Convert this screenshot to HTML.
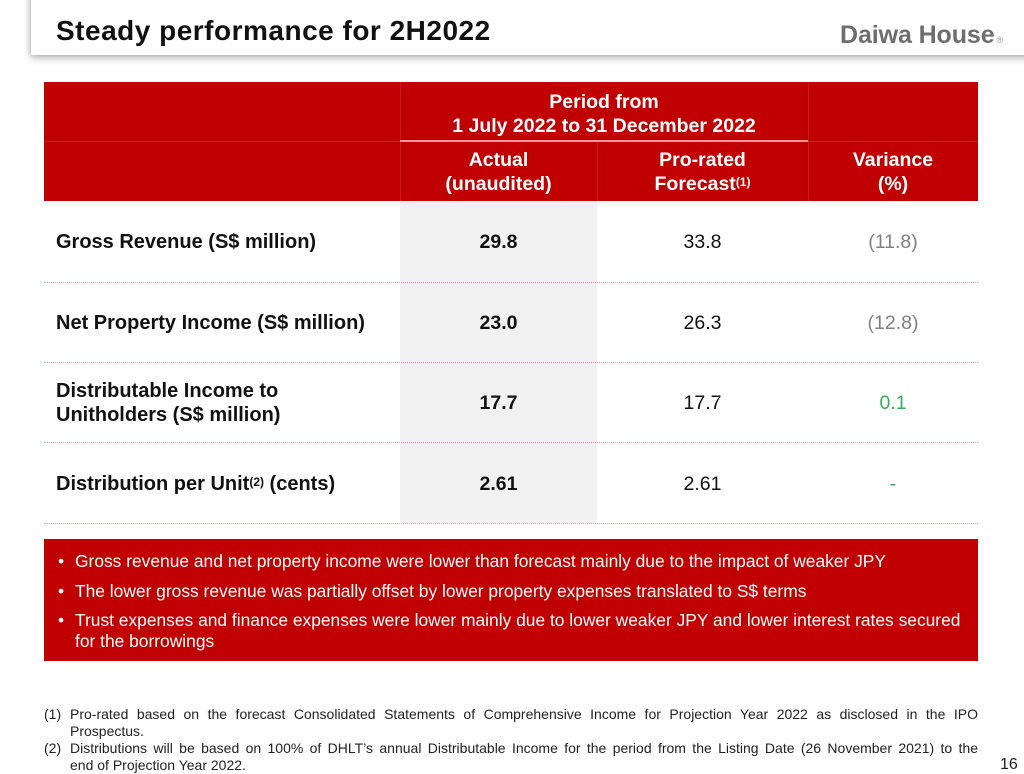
<!DOCTYPE html>
<html>
<head>
<meta charset="utf-8">
<style>
  html, body { margin:0; padding:0; }
  body { width:1024px; height:772px; position:relative; overflow:hidden; background:#fff;
         font-family:"Liberation Sans", Arial, sans-serif; color:#111; }
  .abs { position:absolute; }
  .hdrbox { left:31px; top:-12px; width:1010px; height:67px; background:#fff;
            box-shadow:0 3px 8px rgba(0,0,0,0.28), -1px 0 5px rgba(0,0,0,0.12); }
  .title { left:56px; top:15px; font-size:28px; font-weight:bold; letter-spacing:0.5px; color:#111; white-space:nowrap; }
  .logo { left:840px; top:21px; font-size:25px; font-weight:bold; color:#6e6e6e; letter-spacing:-0.1px; white-space:nowrap; }
  .logo sup { font-size:9px; font-weight:normal; color:#999; vertical-align:baseline; margin-left:2px; }
  .red { background:#c00000; }
  .hcell { color:#fff; font-weight:bold; font-size:19.5px; text-align:center; line-height:24px; white-space:nowrap; }
  .hcell sup { font-size:12px; vertical-align:top; position:relative; top:-2px; }
  .vdiv { width:1px; background:rgba(255,255,255,0.10); }
  .dot { left:44px; width:934px; height:0; border-top:1px dotted #e49a9a; }
  .lbl { left:56px; font-size:20px; font-weight:bold; color:#111; line-height:24px; white-space:nowrap; }
  .lbl sup { font-size:12px; vertical-align:top; position:relative; top:-2px; }
  .val { font-size:19.5px; text-align:center; line-height:24px; white-space:nowrap; }
  .bul { left:58px; color:#fff; font-size:17.4px; line-height:21px; white-space:nowrap; }
  .bul span.b { position:absolute; left:0; top:0; }
  .bul div.t { position:absolute; left:17px; top:0; }
  .fn { left:44px; width:934px; font-size:14px; line-height:17px; color:#222; }
  .fn div { position:relative; padding-left:26px; white-space:nowrap; }
  .fn div.j { text-align:justify; text-align-last:justify; white-space:normal; }
  .fn span.n { position:absolute; left:0; top:0; }
</style>
</head>
<body>
  <div class="abs hdrbox"></div>
  <div class="abs title">Steady performance for 2H2022</div>
  <div class="abs logo">Daiwa House<sup>®</sup></div>

  <!-- table header -->
  <div class="abs red" style="left:44px; top:82px; width:934px; height:119px;"></div>
  <div class="abs" style="left:44px; top:141px; width:934px; height:1px; background:rgba(255,255,255,0.12);"></div>
  <div class="abs" style="left:400px; top:140px; width:408px; height:2px; background:#f29a9a;"></div>
  <div class="abs vdiv" style="left:400px; top:82px; height:119px;"></div>
  <div class="abs vdiv" style="left:597px; top:142px; height:59px;"></div>
  <div class="abs vdiv" style="left:808px; top:82px; height:119px;"></div>

  <div class="abs hcell" style="left:400px; width:408px; top:90px;">Period from<br>1 July 2022 to 31 December 2022</div>
  <div class="abs hcell" style="left:400px; width:197px; top:148px;">Actual<br>(unaudited)</div>
  <div class="abs hcell" style="left:597px; width:211px; top:148px;">Pro-rated<br>Forecast<sup>(1)</sup></div>
  <div class="abs hcell" style="left:808px; width:170px; top:148px;">Variance<br>(%)</div>

  <!-- gray actual column -->
  <div class="abs" style="left:400px; top:201px; width:197px; height:322px; background:#f1f1f1;"></div>

  <!-- dotted separators -->
  <div class="abs dot" style="top:282px;"></div>
  <div class="abs dot" style="top:362px;"></div>
  <div class="abs dot" style="top:442px;"></div>
  <div class="abs dot" style="top:523px;"></div>

  <!-- rows -->
  <div class="abs lbl" style="top:230px;">Gross Revenue (S$ million)</div>
  <div class="abs val" style="left:400px; width:197px; top:230px; font-weight:bold;">29.8</div>
  <div class="abs val" style="left:597px; width:211px; top:230px;">33.8</div>
  <div class="abs val" style="left:808px; width:170px; top:230px; color:#808080;">(11.8)</div>

  <div class="abs lbl" style="top:311px;">Net Property Income (S$ million)</div>
  <div class="abs val" style="left:400px; width:197px; top:311px; font-weight:bold;">23.0</div>
  <div class="abs val" style="left:597px; width:211px; top:311px;">26.3</div>
  <div class="abs val" style="left:808px; width:170px; top:311px; color:#808080;">(12.8)</div>

  <div class="abs lbl" style="top:379px;">Distributable Income to<br>Unitholders (S$ million)</div>
  <div class="abs val" style="left:400px; width:197px; top:391px; font-weight:bold;">17.7</div>
  <div class="abs val" style="left:597px; width:211px; top:391px;">17.7</div>
  <div class="abs val" style="left:808px; width:170px; top:391px; color:#3aaa5c;">0.1</div>

  <div class="abs lbl" style="top:472px;">Distribution per Unit<sup>(2)</sup> (cents)</div>
  <div class="abs val" style="left:400px; width:197px; top:472px; font-weight:bold;">2.61</div>
  <div class="abs val" style="left:597px; width:211px; top:472px;">2.61</div>
  <div class="abs val" style="left:808px; width:170px; top:472px; color:#3aaa5c;">-</div>

  <!-- bullet box -->
  <div class="abs red" style="left:44px; top:539px; width:934px; height:122px;"></div>
  <div class="abs bul" style="top:551px;"><span class="b">•</span><div class="t">Gross revenue and net property income were lower than forecast mainly due to the impact of weaker JPY</div></div>
  <div class="abs bul" style="top:581px;"><span class="b">•</span><div class="t">The lower gross revenue was partially offset by lower property expenses translated to S$ terms</div></div>
  <div class="abs bul" style="top:610px;"><span class="b">•</span><div class="t">Trust expenses and finance expenses were lower mainly due to lower weaker JPY and lower interest rates secured<br>for the borrowings</div></div>

  <!-- footnotes -->
  <div class="abs fn" style="top:706px;">
    <div class="j"><span class="n">(1)</span>Pro-rated based on the forecast Consolidated Statements of Comprehensive Income for Projection Year 2022 as disclosed in the IPO</div>
    <div>Prospectus.</div>
    <div class="j"><span class="n">(2)</span>Distributions will be based on 100% of DHLT’s annual Distributable Income for the period from the Listing Date (26 November 2021) to the</div>
    <div>end of Projection Year 2022.</div>
  </div>

  <div class="abs" style="left:1000px; top:756px; font-size:16px; color:#222;">16</div>
</body>
</html>
